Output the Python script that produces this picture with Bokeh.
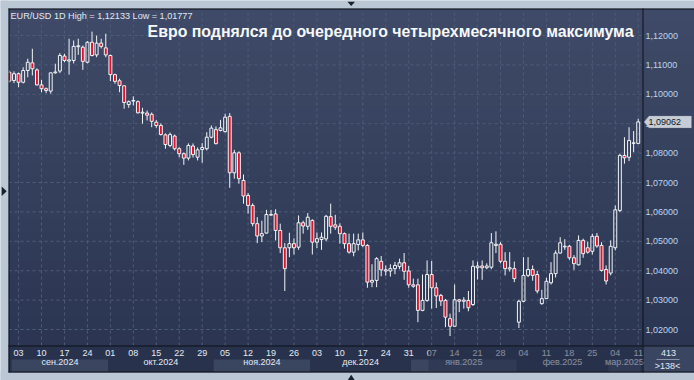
import pandas as pd
from bokeh.plotting import figure
from bokeh.models import (ColumnDataSource, FixedTicker, Range1d, BoxAnnotation,
                          Label, PolyAnnotation, LinearAxis)
from bokeh.embed import file_html
from bokeh.resources import INLINE

# ---------------- data ----------------
dates = pd.bdate_range("2024-08-30", "2025-03-11")

opens = [1.1075, 1.1047, 1.1070, 1.1041, 1.1081, 1.1107, 1.1083, 1.1032, 1.1019, 1.1011,
         1.1073, 1.1079, 1.1130, 1.1113, 1.1115, 1.1162, 1.1160, 1.1109, 1.1177, 1.1134,
         1.1174, 1.1158, 1.1132, 1.1067, 1.1046, 1.1029, 1.0965, 1.0977, 1.0975, 1.0936,
         1.0936, 1.0932, 1.0905, 1.0894, 1.0862, 1.0826, 1.0858, 1.0815, 1.0798, 1.0783,
         1.0824, 1.0786, 1.0812, 1.0815, 1.0854, 1.0880, 1.0877, 1.0873, 1.0925, 1.0733,
         1.0801, 1.0707, 1.0656, 1.0622, 1.0560, 1.0518, 1.0528, 1.0589, 1.0593, 1.0537,
         1.0478, 1.0478, 1.0492, 1.0480, 1.0563, 1.0551, 1.0571, 1.0497, 1.0506, 1.0508,
         1.0584, 1.0556, 1.0551, 1.0526, 1.0492, 1.0463, 1.0489, 1.0505, 1.0486, 1.0361,
         1.0367, 1.0432, 1.0399, 1.0399, 1.0407, 1.0414, 1.0427, 1.0399, 1.0352, 1.0352,
         1.0265, 1.0299, 1.0387, 1.0342, 1.0316, 1.0299, 1.0237, 1.0211, 1.0301, 1.0296,
         1.0299, 1.0285, 1.0410, 1.0416, 1.0410, 1.0412, 1.0486, 1.0490, 1.0432, 1.0406,
         1.0407, 1.0225, 1.0296, 1.0384, 1.0404, 1.0387, 1.0288, 1.0305, 1.0359, 1.0390,
         1.0460, 1.0481, 1.0483, 1.0444, 1.0420, 1.0503, 1.0478, 1.0466, 1.0517, 1.0486,
         1.0404, 1.0392, 1.0478, 1.0605, 1.0792, 1.0786, 1.0833, 1.0833]

highs = [1.1081, 1.1078, 1.1074, 1.1092, 1.1121, 1.1155, 1.1088, 1.1049, 1.1023, 1.1074,
         1.1104, 1.1140, 1.1138, 1.1189, 1.1183, 1.1189, 1.1166, 1.1181, 1.12133, 1.1200,
         1.1189, 1.1206, 1.1135, 1.1070, 1.1053, 1.1030, 1.0979, 1.0993, 1.0979, 1.0954,
         1.0945, 1.0938, 1.0913, 1.0901, 1.0867, 1.0870, 1.0863, 1.0820, 1.0802, 1.0833,
         1.0833, 1.0819, 1.0834, 1.0871, 1.0894, 1.0891, 1.0913, 1.0934, 1.0936, 1.0811,
         1.0806, 1.0727, 1.0664, 1.0629, 1.0582, 1.0570, 1.0607, 1.0607, 1.0609, 1.0560,
         1.0494, 1.0529, 1.0510, 1.0588, 1.0570, 1.0596, 1.0575, 1.0530, 1.0530, 1.0590,
         1.0628, 1.0590, 1.0561, 1.0530, 1.0526, 1.0526, 1.0526, 1.0530, 1.0490, 1.0422,
         1.0446, 1.0450, 1.0418, 1.0422, 1.0430, 1.0441, 1.0460, 1.0416, 1.0373, 1.0373,
         1.0387, 1.0435, 1.0433, 1.0360, 1.0321, 1.0304, 1.0254, 1.0353, 1.0304, 1.0310,
         1.0331, 1.0435, 1.0431, 1.0435, 1.0425, 1.0528, 1.0534, 1.0497, 1.0463, 1.0463,
         1.0431, 1.0301, 1.0446, 1.0446, 1.0418, 1.0399, 1.0335, 1.0376, 1.0429, 1.0469,
         1.0514, 1.0507, 1.0488, 1.0453, 1.0520, 1.0509, 1.0499, 1.0526, 1.0528, 1.0497,
         1.0418, 1.0503, 1.0622, 1.0798, 1.0854, 1.0888, 1.0875, 1.0917]

lows = [1.1040, 1.1038, 1.1024, 1.1037, 1.1058, 1.1064, 1.1030, 1.1007, 1.1004, 1.1002,
        1.1070, 1.1072, 1.1109, 1.1067, 1.1105, 1.1134, 1.1083, 1.1105, 1.1129, 1.1126,
        1.1156, 1.1126, 1.1045, 1.1036, 1.1007, 1.0951, 1.0954, 1.0962, 1.0935, 1.0900,
        1.0911, 1.0888, 1.0886, 1.0860, 1.0815, 1.0820, 1.0809, 1.0786, 1.0760, 1.0775,
        1.0785, 1.0775, 1.0767, 1.0809, 1.0850, 1.0830, 1.0874, 1.0870, 1.0682, 1.0713,
        1.0696, 1.0628, 1.0594, 1.0551, 1.0494, 1.0497, 1.0526, 1.0587, 1.0503, 1.0460,
        1.0331, 1.0446, 1.0455, 1.0471, 1.0526, 1.0539, 1.0455, 1.0477, 1.0471, 1.0500,
        1.0526, 1.0539, 1.0492, 1.0475, 1.0458, 1.0449, 1.0469, 1.0480, 1.0342, 1.0344,
        1.0344, 1.0381, 1.0383, 1.0380, 1.0388, 1.0405, 1.0369, 1.0342, 1.0342, 1.0225,
        1.0262, 1.0294, 1.0271, 1.0273, 1.0280, 1.0208, 1.01777, 1.0211, 1.0259, 1.0271,
        1.0262, 1.0280, 1.0370, 1.0369, 1.0405, 1.0405, 1.0460, 1.0425, 1.0384, 1.0397,
        1.0361, 1.0205, 1.0293, 1.0378, 1.0366, 1.0323, 1.0284, 1.0304, 1.0353, 1.0377,
        1.0458, 1.0471, 1.0437, 1.0403, 1.0418, 1.0444, 1.0458, 1.0455, 1.0478, 1.0397,
        1.0353, 1.0384, 1.0469, 1.0599, 1.0764, 1.0773, 1.0803, 1.0830]

closes = [1.1045, 1.1070, 1.1041, 1.1081, 1.1109, 1.1087, 1.1032, 1.1019, 1.1013, 1.1073,
          1.1076, 1.1132, 1.1115, 1.1117, 1.1163, 1.1165, 1.1112, 1.1177, 1.1132, 1.1174,
          1.1163, 1.1134, 1.1067, 1.1044, 1.1030, 1.0972, 1.0975, 1.0979, 1.0937, 1.0939,
          1.0929, 1.0908, 1.0894, 1.0863, 1.0829, 1.0863, 1.0815, 1.0798, 1.0783, 1.0826,
          1.0795, 1.0811, 1.0819, 1.0854, 1.0885, 1.0832, 1.0886, 1.0922, 1.0733, 1.0801,
          1.0713, 1.0654, 1.0622, 1.0560, 1.0518, 1.0526, 1.0591, 1.0591, 1.0537, 1.0478,
          1.0407, 1.0492, 1.0478, 1.0563, 1.0552, 1.0582, 1.0497, 1.0509, 1.0514, 1.0585,
          1.0551, 1.0548, 1.0526, 1.0492, 1.0463, 1.0492, 1.0505, 1.0486, 1.0361, 1.0367,
          1.0441, 1.0403, 1.0403, 1.0407, 1.0418, 1.0427, 1.0398, 1.0352, 1.0347, 1.0265,
          1.0299, 1.0387, 1.0342, 1.0314, 1.0297, 1.0242, 1.0211, 1.0301, 1.0296, 1.0300,
          1.0274, 1.0415, 1.0416, 1.0410, 1.0416, 1.0495, 1.0490, 1.0432, 1.0407, 1.0410,
          1.0373, 1.0296, 1.0384, 1.0404, 1.0384, 1.0331, 1.0305, 1.0364, 1.0390, 1.0460,
          1.0495, 1.0483, 1.0444, 1.0424, 1.0503, 1.0458, 1.0463, 1.0517, 1.0484, 1.0401,
          1.0365, 1.0483, 1.0607, 1.0792, 1.0784, 1.0843, 1.0835, 1.09062]

y_ticks = [1.02, 1.03, 1.04, 1.05, 1.06, 1.07, 1.08, 1.09, 1.10, 1.11, 1.12]
month_names = {(2024, 9): "сен.2024", (2024, 10): "окт.2024", (2024, 11): "ноя.2024",
               (2024, 12): "дек.2024", (2025, 1): "янв.2025", (2025, 2): "фев.2025",
               (2025, 3): "мар.2025"}
title_text = "Евро поднялся до очередного четырехмесячного максимума"
header_text = "EUR/USD 1D High = 1,12133 Low = 1,01777"
bars_total = "413"

# ---------------- derived ----------------
idx = list(range(len(dates)))
tops = [max(o, c) for o, c in zip(opens, closes)]
bots = [min(o, c) for o, c in zip(opens, closes)]
up = [i for i in idx if closes[i] >= opens[i]]
dn = [i for i in idx if closes[i] < opens[i]]

day_ticks = [i for i in idx if dates[i].weekday() == 1]
day_labels = {i: dates[i].strftime("%d") for i in day_ticks}

month_groups = {}
for i in idx:
    key = (dates[i].year, dates[i].month)
    if key in month_names:
        month_groups.setdefault(key, []).append(i)
month_centers = [sum(v) / len(v) for v in month_groups.values()]
month_labels = {sum(v) / len(v): month_names[k] for k, v in month_groups.items()}

def fmt(v):
    return f"{v:.5f}".replace(".", ",")

# ---------------- geometry (page pixels <-> data) ----------------
W, H = 694, 380
X0, DX = 8.9, 4.59          # page x of bar 0, px per bar
DY = 0.1 / 294.0            # price per px
Y_REF_PX, Y_REF = 35.0, 1.12

def px_to_x(px):
    return (px - X0) / DX

def py_to_y(py):
    return Y_REF - (py - Y_REF_PX) * DY

CH_L, CH_R, CH_T, CH_B = 8, 642, 8, 345     # chart area (page px)
PANEL_B = 372

FONT = "Liberation Sans"

p = figure(width=W, height=H, output_backend="svg", toolbar_location=None,
           x_range=Range1d(px_to_x(0), px_to_x(W)), y_range=Range1d(py_to_y(H), py_to_y(0)),
           x_axis_location=None, y_axis_location=None,
           min_border_left=0, min_border_right=0, min_border_top=0, min_border_bottom=0,
           border_fill_color="#bcc7d5", background_fill_color="#bcc7d5",
           outline_line_color=None)
p.xgrid.visible = False
p.ygrid.visible = False

def box(l, r, t, b, color, alpha=1.0, level="image"):
    p.add_layout(BoxAnnotation(left=l, right=r, top=t, bottom=b,
                               left_units="canvas", right_units="canvas",
                               top_units="canvas", bottom_units="canvas",
                               fill_color=color, fill_alpha=alpha, line_color=None,
                               level=level))

# gradient panel background
N = 26
top_c = (62, 74, 103)
bot_c = (42, 52, 80)
for k in range(N):
    t = k / (N - 1)
    col = "#%02x%02x%02x" % tuple(int(round(a + (b - a) * t)) for a, b in zip(top_c, bot_c))
    y0 = CH_T + k * (PANEL_B - CH_T) / N
    y1 = min(y0 + (PANEL_B - CH_T) / N + 0.7, PANEL_B)
    box(CH_L, W, y0, y1, col)

# bottom (time axis) panel
box(CH_L, CH_R, CH_B, PANEL_B, "#29324c")
# month boxes, alternating
for n, (k, v) in enumerate(month_groups.items()):
    if n % 2 == 0:
        p.add_layout(BoxAnnotation(left=v[0] - 0.5, right=min(v[-1] + 0.5, px_to_x(CH_R)),
                                   top=359, bottom=PANEL_B,
                                   top_units="canvas", bottom_units="canvas",
                                   fill_color="#3a4560", fill_alpha=1, line_color=None,
                                   level="image"))
# corner box
box(CH_R, W, CH_B, PANEL_B, "#3a4661")
box(656, 679, 358.5, 359.5, "#8a97ab")

# grid (dashed) from tick lists
chart_x0, chart_x1 = px_to_x(CH_L), px_to_x(CH_R)
chart_y0, chart_y1 = py_to_y(CH_B), py_to_y(CH_T)
GRID = "#4f5c78"
p.segment(x0=day_ticks, x1=day_ticks, y0=[chart_y0] * len(day_ticks), y1=[chart_y1] * len(day_ticks),
          line_color=GRID, line_dash="3 3", line_width=1)
p.segment(x0=[chart_x0] * len(y_ticks), x1=[chart_x1] * len(y_ticks), y0=y_ticks, y1=y_ticks,
          line_color=GRID, line_dash="3 3", line_width=1)

# candles
src_up = ColumnDataSource(dict(x=[idx[i] for i in up], h=[highs[i] for i in up], l=[lows[i] for i in up],
                               t=[tops[i] for i in up], b=[bots[i] for i in up]))
src_dn = ColumnDataSource(dict(x=[idx[i] for i in dn], h=[highs[i] for i in dn], l=[lows[i] for i in dn],
                               t=[tops[i] for i in dn], b=[bots[i] for i in dn]))
WHITE = "#f2f5f8"
RED = "#e3102c"
for s in (src_up, src_dn):
    p.segment(x0="x", y0="h", x1="x", y1="t", source=s, line_color=WHITE, line_width=1)
    p.segment(x0="x", y0="b", x1="x", y1="l", source=s, line_color=WHITE, line_width=1)
p.vbar(x="x", width=0.64, top="t", bottom="b", source=src_up,
       fill_alpha=0, line_color=WHITE, line_width=1)
p.vbar(x="x", width=0.64, top="t", bottom="b", source=src_dn,
       fill_color=RED, line_color=WHITE, line_width=1)

# axes at fixed locations
common = dict(axis_line_color=None, major_tick_line_color=None, minor_tick_line_color=None,
              major_tick_out=0, major_tick_in=0, minor_tick_out=0, minor_tick_in=0,
              major_label_text_font=FONT, major_label_text_font_size="9px")
ya = LinearAxis(fixed_location=px_to_x(CH_R), ticker=FixedTicker(ticks=y_ticks),
                major_label_overrides={t: fmt(t) for t in y_ticks},
                major_label_standoff=3, major_label_text_color="#bcd5ef", **common)
p.add_layout(ya, "right")
xa = LinearAxis(fixed_location=py_to_y(CH_B), ticker=FixedTicker(ticks=day_ticks),
                major_label_overrides=day_labels, major_label_standoff=4,
                major_label_text_color="#e2eaf3", **common)
p.add_layout(xa, "below")
ma = LinearAxis(fixed_location=py_to_y(356.5), ticker=FixedTicker(ticks=month_centers),
                major_label_overrides=month_labels, major_label_standoff=0,
                major_label_text_color="#e2eaf3", **common)
p.add_layout(ma, "below")

# outer light frame strips and dark borders (drawn above candles)
LIGHT = "#bcc7d5"
DARK = "#0c1119"
box(0, CH_L, 0, H, LIGHT, level="annotation")
box(0, W, 0, CH_T, LIGHT, level="annotation")
box(0, W, PANEL_B, H, LIGHT, level="annotation")
box(CH_L, W, CH_T, CH_T + 1, DARK, level="annotation")
box(CH_L, CH_L + 1, CH_T, PANEL_B, DARK, level="annotation")
box(CH_L, W, PANEL_B - 1, PANEL_B, DARK, level="annotation")
box(CH_R, CH_R + 1, CH_T, PANEL_B, DARK, level="annotation")
box(CH_L, W, CH_B, CH_B + 1, DARK, level="annotation")

# texts
p.add_layout(Label(x=10, y=15, x_units="canvas", y_units="canvas", text=header_text,
                   text_font=FONT, text_font_size="9.1px", text_color="#e0e9f3",
                   text_baseline="middle"))
p.add_layout(Label(x=633, y=30.5, x_units="canvas", y_units="canvas", text=title_text,
                   text_font=FONT, text_font_size="15.9px", text_font_style="bold",
                   text_color="#f6f8fa", text_align="right", text_baseline="middle"))

# last price tag
last = closes[-1]
d = 6 * DY
p.add_layout(PolyAnnotation(xs=[643.5, 648.5, 691, 691, 648.5],
                            ys=[last, last + d, last + d, last - d, last - d],
                            xs_units="canvas", ys_units="data",
                            fill_color="#c6cdd6", fill_alpha=1, line_color="#7d8694",
                            line_width=1))
p.add_layout(Label(x=648, y=last, x_units="canvas", y_units="data", text=fmt(last),
                   text_font=FONT, text_font_size="9px", text_color="#0f1722",
                   text_baseline="middle"))

# corner counters
p.add_layout(Label(x=668, y=352.5, x_units="canvas", y_units="canvas", text=bars_total,
                   text_font=FONT, text_font_size="9px", text_color="#e2eaf3",
                   text_align="center", text_baseline="middle"))
p.add_layout(Label(x=667, y=365, x_units="canvas", y_units="canvas", text=">%d<" % len(idx),
                   text_font=FONT, text_font_size="9px", text_color="#e2eaf3",
                   text_align="center", text_baseline="middle"))

# dimming overlay on the later part of the time axis
box(428, CH_R, CH_B + 1, PANEL_B - 1, "#27304a", alpha=0.5, level="overlay")

# small navigation markers in the outer frame
for xs, ys in (([347, 354.5, 350.7], [1.2, 1.2, 5.6]),
               ([1.2, 1.2, 6.2], [186, 195.5, 190.8]),
               ([347, 354.5, 350.7], [380, 380, 374.3])):
    p.add_layout(PolyAnnotation(xs=xs, ys=ys, xs_units="canvas", ys_units="canvas",
                                fill_color="#18222f", fill_alpha=1, line_color=None))

open("out.html", "w").write(file_html(p, INLINE))
